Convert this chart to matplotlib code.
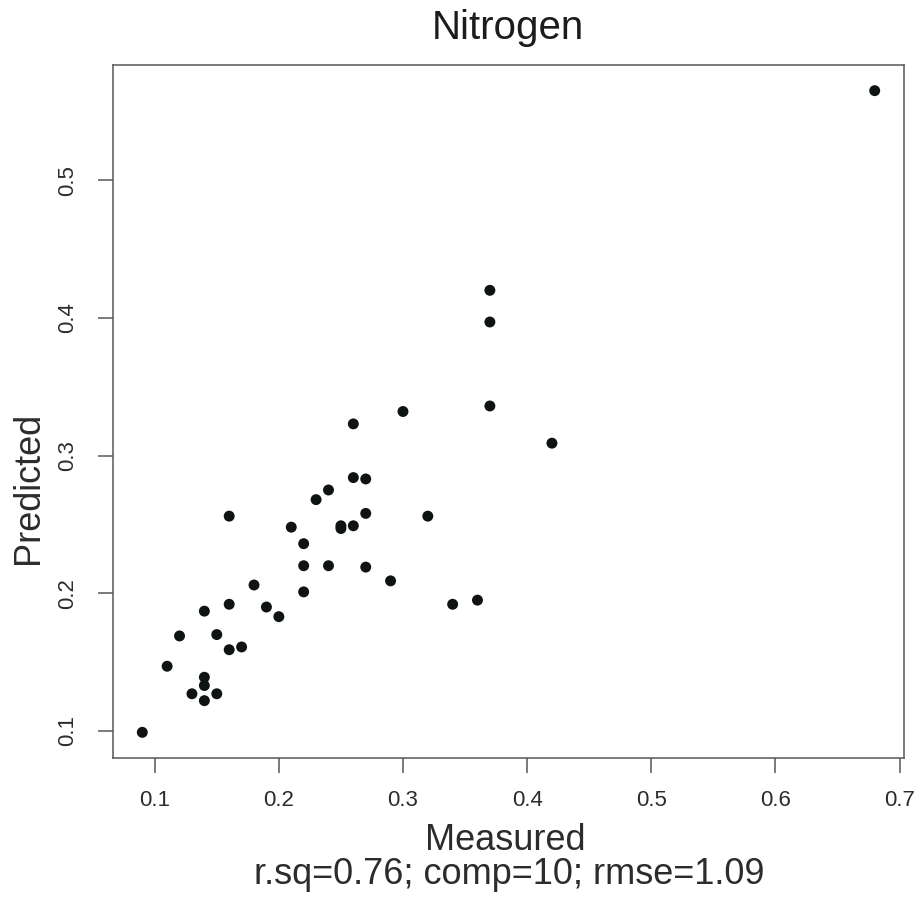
import matplotlib
matplotlib.use("Agg")
import matplotlib.pyplot as plt
import numpy as np

plt.rcParams["font.family"] = ["Liberation Sans", "DejaVu Sans"]

# Measured vs predicted nitrogen
measured = [0.09, 0.11, 0.12, 0.13, 0.14, 0.14, 0.14, 0.15, 0.14, 0.15,
            0.16, 0.16, 0.17, 0.16, 0.18, 0.19, 0.20, 0.21, 0.22, 0.22,
            0.22, 0.23, 0.24, 0.24, 0.25, 0.25, 0.26, 0.26, 0.26, 0.27,
            0.27, 0.27, 0.29, 0.30, 0.32, 0.34, 0.36, 0.37, 0.37, 0.37,
            0.42, 0.68]
predicted = [0.099, 0.147, 0.169, 0.127, 0.139, 0.133, 0.122, 0.127, 0.187, 0.170,
             0.192, 0.159, 0.161, 0.256, 0.206, 0.190, 0.183, 0.248, 0.236, 0.220,
             0.201, 0.268, 0.275, 0.220, 0.249, 0.247, 0.249, 0.323, 0.284, 0.283,
             0.258, 0.219, 0.209, 0.332, 0.256, 0.192, 0.195, 0.420, 0.397, 0.336,
             0.309, 0.565]

x_ticks = [0.1, 0.2, 0.3, 0.4, 0.5, 0.6, 0.7]
y_ticks = [0.1, 0.2, 0.3, 0.4, 0.5]

title = "Nitrogen"
x_label = "Measured"
y_label = "Predicted"
subtitle = "r.sq=0.76; comp=10; rmse=1.09"

W, H = 919, 899
fig = plt.figure(figsize=(W / 100, H / 100), dpi=100)
fig.patch.set_facecolor("white")

ax = fig.add_axes([113 / W, 1 - 758 / H, (904 - 113) / W, (758 - 65) / H])
ax.scatter(measured, predicted, s=62, color="#0f1410", edgecolors="none", zorder=3)


def padded(vals, frac=0.04):
    lo, hi = min(vals), max(vals)
    pad = (hi - lo) * frac
    return lo - pad, hi + pad


ax.set_xlim(*padded(measured))
ax.set_ylim(*padded(predicted))

ax.set_xticks(x_ticks)
ax.set_xticklabels([f"{v:g}" for v in x_ticks])
ax.set_yticks(y_ticks)
ax.set_yticklabels([f"{v:g}" for v in y_ticks], rotation=90, va="center")

ink = "#2a2d2a"
for sp in ax.spines.values():
    sp.set_color("#555855")
    sp.set_linewidth(1.1)
ax.tick_params(axis="both", length=11, width=1.1, color="#555855",
               labelsize=16, labelcolor=ink, direction="out")
ax.tick_params(axis="x", pad=12)
ax.tick_params(axis="y", pad=14)

fig.text(508 / W, 1 - 39 / H, title, ha="center", va="baseline",
         fontsize=29, color="#1a1d1a")
fig.text(505 / W, 1 - 850 / H, x_label, ha="center", va="baseline",
         fontsize=26, color=ink)
fig.text(509 / W, 1 - 884 / H, subtitle, ha="center", va="baseline",
         fontsize=26, color=ink)
fig.text(29 / W, 1 - 412 / H, y_label, ha="right", va="center", rotation=90,
         fontsize=26, color=ink, rotation_mode="anchor")

fig.savefig("out.png", dpi=100, facecolor="white")
